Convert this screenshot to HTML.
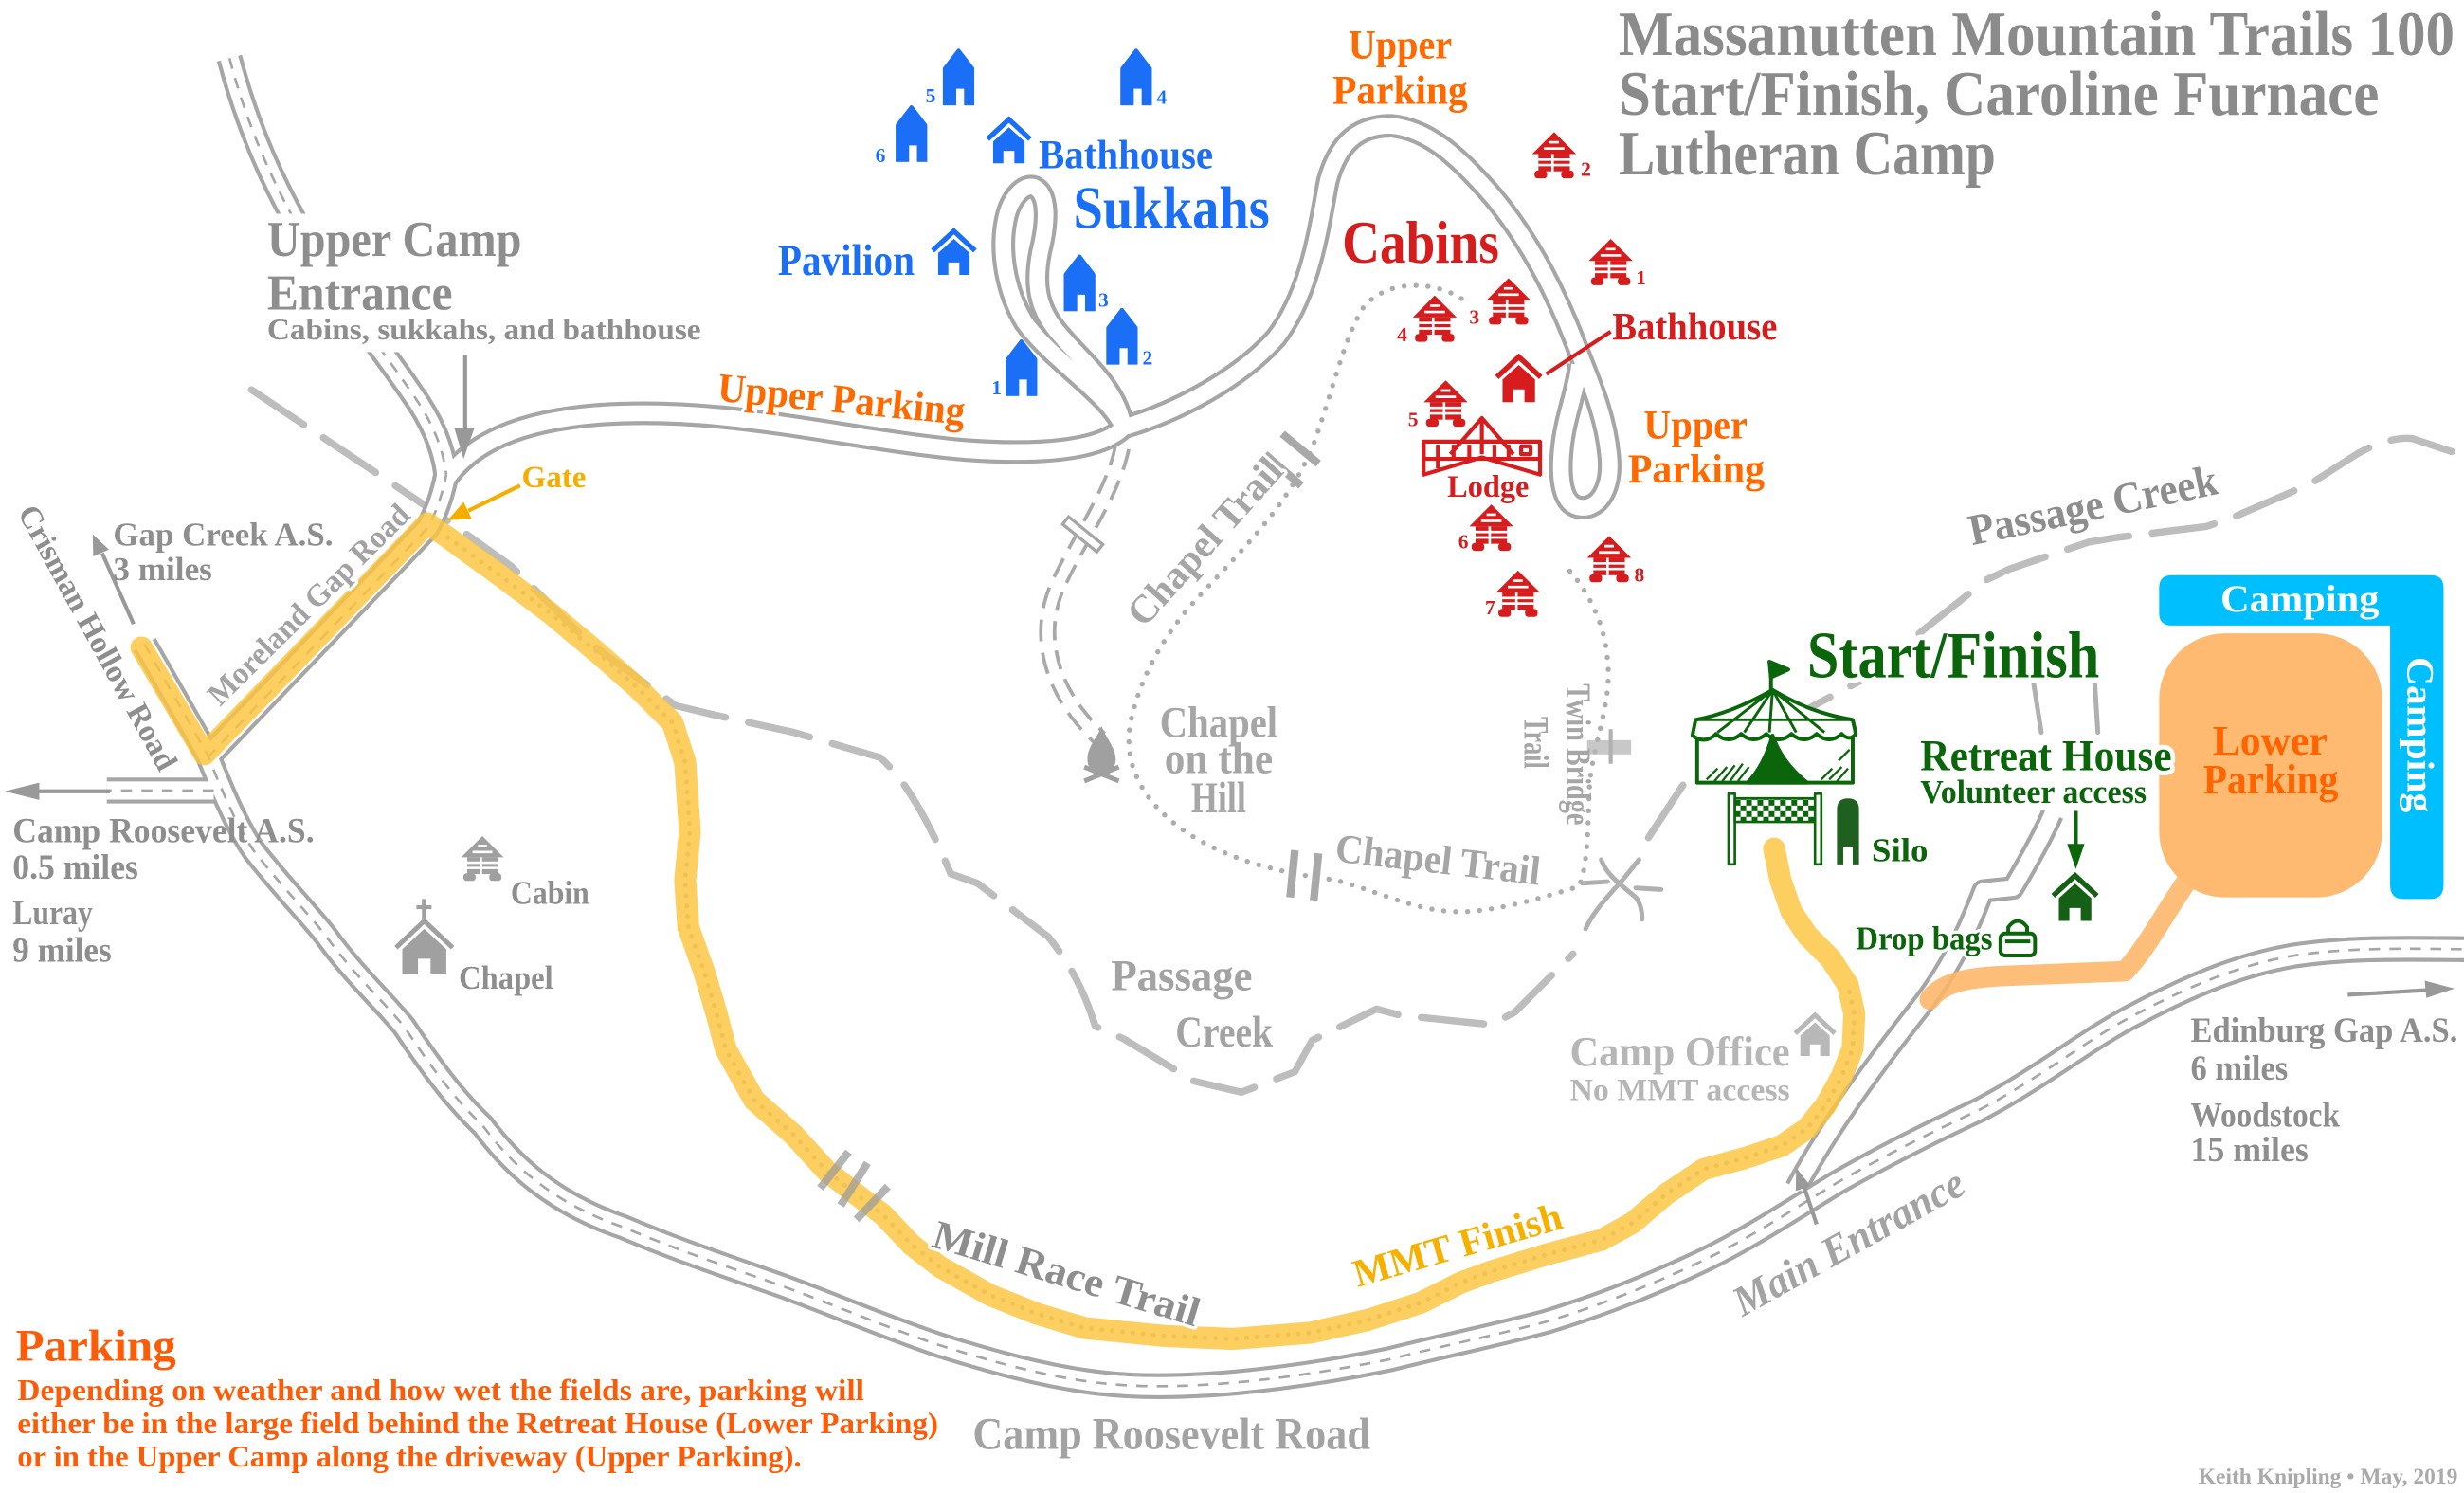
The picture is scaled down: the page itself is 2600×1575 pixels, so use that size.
<!DOCTYPE html>
<html><head><meta charset="utf-8"><title>MMT 100 Start/Finish map</title>
<style>
html,body{margin:0;padding:0;background:#fff;overflow:hidden}
svg{display:block}
text{font-family:"Liberation Serif","DejaVu Serif",serif;font-weight:bold}
.g{fill:#8e8e8e}
.h{paint-order:stroke fill;stroke:#fff;stroke-width:4px;stroke-linejoin:round}
</style></head><body>
<svg xmlns="http://www.w3.org/2000/svg" width="2600" height="1575" viewBox="0 0 1568 950" preserveAspectRatio="none">
<defs>
<path id="rMain" d="M92,410 L132,480 C140,500 150,525 162,542 C180,565 195,580 207,595 C225,620 242,635 257,653 C275,680 290,700 307,716 C325,740 350,765 397,781 C430,795 460,805 497,818 C530,830 565,845 598,856 C630,866 665,876 700,880 C750,886 820,878 884,865 C920,856 950,850 984,841 C1020,830 1050,818 1084,802 C1115,787 1140,770 1170,752 C1200,735 1230,720 1260,706 C1300,685 1330,660 1360,645 C1400,624 1430,613 1460,608 C1500,602 1540,604 1580,604"/>
<path id="rMore" d="M132,482 L272,336 Q280,322 284,302"/>
<path id="rNorth" d="M146,37 C160,90 180,130 205,170 C225,200 245,225 262,250 C275,268 282,285 284,302"/>
<path id="rStub" d="M136,503 L68,503"/>
<path id="rDrive" d="M284,305 C300,282 330,268 380,264 C460,258 530,278 610,286 C660,290 700,287 715,272"/>
<path id="rSuk" d="M715,272 C705,250 670,230 652,205 C640,185 636,160 640,140 C643,125 652,117 658,119 C667,123 667,140 662,160 C658,180 660,195 672,210 C688,230 710,245 715,272"/>
<path id="rCab" d="M715,272 C750,262 790,240 812,215 C835,185 840,140 845,115 C852,90 865,80 885,80 C910,82 930,102 950,125 C975,155 992,190 1005,225 C1015,250 1022,268 1024,290 C1026,310 1018,324 1006,323 C994,322 992,305 994,285 C996,265 1003,250 1005,232"/>
<path id="rEnt" d="M1143,756 C1165,715 1195,675 1225,637 C1245,610 1255,585 1262,567 L1281,565 C1291,548 1300,532 1306,518"/>
<path id="rChap" d="M714,285 C708,315 685,345 672,375 C660,405 668,440 700,470"/>
<symbol id="suk" viewBox="0 0 20 36"><path d="M0,36V13L10,0L20,13V36H14V25H8V36Z"/></symbol>
<symbol id="house" viewBox="0 0 30 30"><path d="M1.5,14.5L15,2L28.5,14.5" fill="none" stroke-width="3.2"/><path d="M5,16L15,7L25,16V30H18.5V22H11.5V30H5Z" stroke="none"/></symbol>
<symbol id="cab" viewBox="0 0 30 30">
<path d="M15,0L1,14H29Z"/><rect x="5" y="14" width="20" height="11"/>
<rect x="2.5" y="24.5" width="8" height="5" rx="2"/><rect x="19.5" y="24.5" width="8" height="5" rx="2"/>
<path d="M12,6.5H18M8.5,10.5H21.5M5,17.5H25M5,21H25M14,14V25" stroke="#fff" stroke-width="1.6" fill="none"/>
</symbol>
<pattern id="chk" x="1104" y="509" width="7.2" height="7.2" patternUnits="userSpaceOnUse">
<rect width="7.2" height="7.2" fill="#fff"/><rect width="3.6" height="3.6" fill="#0b650b"/><rect x="3.6" y="3.6" width="3.6" height="3.6" fill="#0b650b"/>
</pattern>
</defs>
<rect width="1568" height="950" fill="#fff"/>

<!-- creek -->
<g fill="none" stroke="#bdbdbd" stroke-width="4.5" stroke-linecap="round" stroke-linejoin="round" stroke-dasharray="40 15">
<path d="M160,248 L205,278 L265,318 L290,335 L325,360 L375,409 L430,449 L455,455 L505,466 L560,482 C575,495 590,520 605,556 L622,562 L667,596 C680,612 690,630 697,653 L715,661 L760,688 L790,695 L824,682 L835,662 L876,642 L891,646 L949,652 L964,644 L1001,607"/>
<path d="M1049,533 L1074,495 L1094,487 L1130,462 L1186,432 L1225,400 L1264,369 L1279,362 L1329,345 L1347,342 L1404,335 L1419,330 L1470,308 L1495,292 C1510,282 1525,278 1535,279 L1568,290"/>
</g>

<!-- dotted trails -->
<path d="M930,190 C915,180 885,176 868,195 C855,215 848,250 835,285 C818,325 785,355 758,385 C738,408 724,435 719,462 C715,490 730,515 762,534 C790,550 820,556 850,560 C880,568 905,582 935,580 C960,578 985,570 1005,564 C1012,545 1010,515 1012,495 C1015,470 1026,445 1023,420 C1021,395 1010,375 996,360" fill="none" stroke="#adadad" stroke-width="3.2" stroke-linecap="round" stroke-dasharray="0.1 7.5"/>
<!-- twin bridge X -->
<g fill="none" stroke="#b0b0b0" stroke-width="3" stroke-linecap="round">
<path d="M1019,547 C1022,556 1030,562 1041,571 C1044,575 1045,580 1045,585"/>
<path d="M1043,547 C1038,553 1033,560 1027,566 C1020,574 1013,582 1009,591"/>
<path d="M1007,562 L1023,561"/><path d="M1041,565 L1057,566"/>
<path d="M1294,434 L1299,466"/><path d="M1333,434 L1335,466"/>
</g>
<rect x="1010" y="471" width="28" height="9" fill="#b5b5b5" opacity=".75"/>
<path d="M1025,464 V486" stroke="#b0b0b0" stroke-width="2.5"/>

<!-- roads -->
<g fill="none" stroke-linejoin="round">
<use href="#rChap" stroke="#a9a9a9" stroke-width="11" stroke-dasharray="13 7"/>
<use href="#rChap" stroke="#fff" stroke-width="6.5"/>
<g stroke="#a6a6a6" stroke-width="16.5"><use href="#rMain"/><use href="#rMore"/><use href="#rNorth"/><use href="#rStub"/></g>
<g stroke="#a6a6a6" stroke-width="15"><use href="#rDrive"/><use href="#rSuk"/><use href="#rCab"/><use href="#rEnt"/></g>
<g stroke="#fff" stroke-width="11.5"><use href="#rMain"/><use href="#rMore"/><use href="#rNorth"/><use href="#rStub"/></g>
<g stroke="#fff" stroke-width="10"><use href="#rDrive"/><use href="#rSuk"/><use href="#rCab"/><use href="#rEnt"/></g>
<g stroke="#a6a6a6" stroke-width="1.6" stroke-dasharray="7 6"><use href="#rMain"/><use href="#rMore"/><use href="#rNorth"/><use href="#rStub"/></g>
</g>
<!-- chapel road bridge -->
<rect x="-14" y="-3" width="28" height="6" transform="translate(689,340) rotate(39)" fill="#fff" stroke="#a6a6a6" stroke-width="2"/>
<!-- chapel trail bridges -->
<g stroke="#a9a9a9" stroke-width="5" stroke-linecap="butt">
<path d="M805,289 L828,309"/><path d="M816,276 L839,295"/>
<path d="M824,541 L821,571"/><path d="M839,543 L836,573"/>
</g>

<!-- yellow trail -->
<path d="M285,342 L318,366 L350,390 L380,415 L405,437 L428,460 L436,485 L439,529 L436,560 L438,590 L448,618 L456,645 L462,668 L480,700 L505,722 L526,745 L545,760 L562,773 L580,792 L598,806 L630,824 L660,836 L690,845 L740,850 L784,852 L834,848 L870,840 L904,829 L930,816 L949,809 L985,798 L1019,789 L1039,778 L1060,760 L1084,744 L1110,737 L1134,729 L1150,718 L1162,703 L1172,685 L1179,667 L1180,645 L1176,627" fill="none" stroke="#b8b8b8" stroke-width="3" stroke-linecap="round" stroke-dasharray="0.1 6.5"/>
<path d="M90,412 L130,480 L272,333 L285,342 L318,366 L350,390 L380,415 L405,437 L428,460 L436,485 L439,529 L436,560 L438,590 L448,618 L456,645 L462,668 L480,700 L505,722 L526,745 L545,760 L562,773 L580,792 L598,806 L630,824 L660,836 L690,845 L740,850 L784,852 L834,848 L870,840 L904,829 L930,816 L949,809 L985,798 L1019,789 L1039,778 L1060,760 L1084,744 L1110,737 L1134,729 L1150,718 L1162,703 L1172,685 L1179,667 L1180,645 L1176,627 L1165,610 L1150,595 L1140,580 L1133,560 L1129,540" fill="none" stroke="#fcc53e" stroke-opacity=".82" stroke-width="14" stroke-linecap="round" stroke-linejoin="round"/>
<!-- mill race bridge -->
<g stroke="#9c9c9c" stroke-width="5" opacity=".75"><path d="M540,733 L522,756"/><path d="M552,740 L535,767"/><path d="M565,755 L545,776"/></g>

<!-- lower parking route -->
<path d="M1228,636 C1235,626 1250,622 1275,621 L1352,618 C1365,605 1375,585 1392,560 L1400,550" fill="none" stroke="#fdb566" stroke-opacity=".88" stroke-width="13" stroke-linecap="round" stroke-linejoin="round"/>
<rect x="1374" y="403" width="142" height="168" rx="42" fill="#fdba70"/>
<path d="M1374,374 Q1374,366 1382,366 L1547,366 Q1555,366 1555,374 L1555,563 Q1555,572 1547,572 L1529,572 Q1521,572 1521,563 L1521,398 L1382,398 Q1374,398 1374,390 Z" fill="#00bfff"/>

<!-- blue sukkahs -->
<g fill="#1b6ff7" stroke="#1b6ff7">
<use href="#suk" x="600" y="31" width="20" height="36"/>
<use href="#suk" x="713" y="31" width="20" height="36"/>
<use href="#suk" x="570" y="67" width="20" height="36"/>
<use href="#suk" x="677" y="162" width="20" height="36"/>
<use href="#suk" x="704" y="196" width="20" height="36"/>
<use href="#suk" x="640" y="216" width="20" height="36"/>
<use href="#house" x="627" y="74" width="30" height="30"/>
<use href="#house" x="592" y="145" width="30" height="30"/>
</g>
<g fill="#1b6ff7" font-size="13">
<text x="589" y="65">5</text><text x="736" y="66">4</text><text x="557" y="103">6</text>
<text x="699" y="195">3</text><text x="727" y="232">2</text><text x="631" y="251">1</text>
<text x="683" y="145" font-size="38" textLength="125" lengthAdjust="spacingAndGlyphs">Sukkahs</text>
<text x="661" y="107" font-size="26" textLength="111" lengthAdjust="spacingAndGlyphs">Bathhouse</text>
<text x="495" y="175" font-size="28" textLength="87" lengthAdjust="spacingAndGlyphs">Pavilion</text>
</g>

<!-- red cabins -->
<g fill="#d61c1c">
<use href="#cab" x="974" y="84" width="30" height="30"/>
<use href="#cab" x="1010" y="152" width="30" height="30"/>
<use href="#cab" x="945" y="177" width="30" height="30"/>
<use href="#cab" x="898" y="188" width="30" height="30"/>
<use href="#cab" x="905" y="242" width="30" height="30"/>
<use href="#cab" x="934" y="321" width="30" height="30"/>
<use href="#cab" x="1009" y="341" width="30" height="30"/>
<use href="#cab" x="951" y="363" width="30" height="30"/>
</g>
<use href="#house" x="950" y="225" width="33" height="31" fill="#d61c1c" stroke="#d61c1c"/>
<path d="M984,238 L1025,211" stroke="#d61c1c" stroke-width="2.5"/>
<g fill="none" stroke="#d61c1c" stroke-width="2.5" stroke-linejoin="round">
<path d="M923,289 L943,266 L963,289"/><path d="M931,281 H955 M943,266 V289"/>
<rect x="906" y="281" width="74" height="11"/>
<path d="M906,281 V302 L943,291 L980,302 V281"/>
<path d="M915,283V298 M925,283V293 M935,283V292 M951,283V292 M960,283V293 M968,284h6v5h-6z"/>
</g>
<g fill="#d61c1c" font-size="13">
<text x="1006" y="112">2</text><text x="1041" y="181">1</text><text x="935" y="206">3</text><text x="889" y="217">4</text>
<text x="896" y="271">5</text><text x="928" y="349">6</text><text x="1040" y="370">8</text><text x="945" y="391">7</text>
<text x="854" y="167" font-size="38" textLength="100" lengthAdjust="spacingAndGlyphs">Cabins</text>
<text x="1026" y="216" font-size="25" textLength="105" lengthAdjust="spacingAndGlyphs">Bathhouse</text>
<text x="921" y="316" font-size="20" textLength="52" lengthAdjust="spacingAndGlyphs">Lodge</text>
</g>

<!-- gray icons -->
<use href="#cab" x="292" y="532" width="30" height="29" fill="#a0a0a0"/>
<g fill="#a0a0a0">
<rect x="268.5" y="572" width="2.6" height="15"/><rect x="265" y="576" width="9.6" height="2.5"/>
<path d="M252,603 L270,586 L288,603" fill="none" stroke="#a0a0a0" stroke-width="3"/>
<path d="M256,604 L270,591 L284,604 V620 H274 V610 H266 V620 H256Z"/>
<path d="M701,462 C698,470 692,475 692,483 C692,489 696,492 701,492 C706,492 710,489 710,483 C710,476 704,470 701,462Z"/>
<path d="M690,488 L712,497 M712,488 L690,497" stroke="#a0a0a0" stroke-width="3"/>
</g>
<use href="#house" x="1141" y="644" width="28" height="28" fill="#b8b8b8" stroke="#b8b8b8"/>

<!-- tent -->
<g stroke="#0b650b" stroke-width="2.4" fill="#fff" stroke-linejoin="round">
<line x1="1127" y1="440" x2="1127" y2="422"/>
<path d="M1126,421 L1138,426 L1127,431Z" fill="#0b650b"/>
<path d="M1080,468 L1080,498 L1179,498 L1179,468 Z"/>
<path d="M1128,439 C1110,449 1095,455 1079,458 L1077,468 Q1085,474 1092,467 Q1100,474 1108,467 Q1116,474 1124,467 Q1132,474 1140,467 Q1148,474 1156,467 Q1164,474 1172,467 Q1177,472 1181,467 L1179,458 C1160,455 1145,449 1128,439Z"/>
<path d="M1079,458 H1179 M1128,439 L1093,466 M1128,439 L1110,466 M1128,439 L1126,466 M1128,439 L1143,466 M1128,439 L1161,466" fill="none" stroke-width="1.8"/>
<path d="M1128,468 C1124,482 1118,492 1112,498 L1150,498 C1140,490 1132,480 1128,468Z" fill="#0b650b"/>
<path d="M1086,496 L1093,489 M1091,497 L1099,488 M1096,497 L1104,487 M1101,497 L1109,486 M1106,497 L1113,488 M1164,496 L1172,488 M1169,497 L1176,489 M1159,496 L1166,489 M1170,484 L1177,477" fill="none" stroke-width="1.4"/>
<rect x="1100" y="505" width="4" height="45" stroke-width="1.6"/>
<rect x="1155" y="505" width="4" height="45" stroke-width="1.6"/>
<rect x="1104" y="508" width="51" height="15" fill="url(#chk)" stroke-width="1.6"/>
</g>
<path d="M1169,550 V515 Q1169,508 1176,508 Q1183,508 1183,515 V550 H1179 V539 H1173 V550 Z" fill="#1f5f1f"/>
<use href="#house" x="1305" y="555" width="31" height="31" fill="#166016" stroke="#166016"/>
<g fill="none" stroke="#0b650b" stroke-width="2.4">
<rect x="1273" y="594" width="22" height="14" rx="3"/>
<path d="M1278,594 V590 Q1284,582 1290,590 V594"/><path d="M1276,599 H1292"/>
</g>

<!-- arrows -->
<g stroke="#999" stroke-width="2.5" fill="#999">
<path d="M85,397 L65,352"/><polygon points="59,340 69.3,349.7 59.3,354.1" stroke="none"/>
<path d="M70,503.5 L24,503.5"/><polygon points="3,503.5 25,498 25,509" stroke="none"/>
<path d="M1494,633 L1545,630"/><polygon points="1562,629 1543,624 1544,635" stroke="none"/>
<path d="M1156,779 L1148,755"/><polygon points="1143,743 1152.2,754.6 1142.8,757.8" stroke="none"/>
<path d="M296,226 L296,276"/><polygon points="295,292 289,272 302,272" stroke="none"/>
</g>
<path d="M331,309 L298,325" stroke="#f5ad00" stroke-width="2.5"/>
<polygon points="285,331 300.2,330.2 295,319.4" fill="#f5ad00"/>
<path d="M1321,516 V540" stroke="#0b650b" stroke-width="2.5"/>
<polygon points="1321,553 1315.5,537 1326.5,537" fill="#0b650b"/>

<!-- gray labels -->
<rect x="165" y="136" width="283" height="88" fill="#fff"/>
<g class="g">
<text x="1030" y="35" font-size="40" fill="#8b8b8b" textLength="532" lengthAdjust="spacingAndGlyphs">Massanutten Mountain Trails 100</text>
<text x="1030" y="73" font-size="40" fill="#8b8b8b" textLength="484" lengthAdjust="spacingAndGlyphs">Start/Finish, Caroline Furnace</text>
<text x="1030" y="111" font-size="40" fill="#8b8b8b" textLength="240" lengthAdjust="spacingAndGlyphs">Lutheran Camp</text>
<text x="170" y="163" font-size="32" textLength="162" lengthAdjust="spacingAndGlyphs">Upper Camp</text>
<text x="170" y="197" font-size="32" textLength="118" lengthAdjust="spacingAndGlyphs">Entrance</text>
<text x="170" y="216" font-size="19" textLength="276" lengthAdjust="spacingAndGlyphs">Cabins, sukkahs, and bathhouse</text>
<text x="72" y="347" font-size="21" textLength="140" lengthAdjust="spacingAndGlyphs">Gap Creek A.S.</text>
<text x="72" y="369" font-size="21" textLength="63" lengthAdjust="spacingAndGlyphs">3 miles</text>
<text x="8" y="536" font-size="22" textLength="192" lengthAdjust="spacingAndGlyphs">Camp Roosevelt A.S.</text>
<text x="8" y="559" font-size="22" textLength="80" lengthAdjust="spacingAndGlyphs">0.5 miles</text>
<text x="8" y="588" font-size="22" textLength="51" lengthAdjust="spacingAndGlyphs">Luray</text>
<text x="8" y="612" font-size="22" textLength="63" lengthAdjust="spacingAndGlyphs">9 miles</text>
<text x="325" y="575" font-size="21" textLength="50" lengthAdjust="spacingAndGlyphs">Cabin</text>
<text x="292" y="629" font-size="21" textLength="60" lengthAdjust="spacingAndGlyphs">Chapel</text>
<text x="738" y="469" font-size="28" fill="#a6a6a6" textLength="75" lengthAdjust="spacingAndGlyphs">Chapel</text>
<text x="741" y="492" font-size="28" fill="#a6a6a6" textLength="69" lengthAdjust="spacingAndGlyphs">on the</text>
<text x="758" y="517" font-size="28" fill="#a6a6a6" textLength="35" lengthAdjust="spacingAndGlyphs">Hill</text>
<text class="h" x="707" y="630" font-size="28" fill="#a3a3a3" textLength="90" lengthAdjust="spacingAndGlyphs">Passage</text>
<text class="h" x="748" y="666" font-size="28" fill="#a3a3a3" textLength="62" lengthAdjust="spacingAndGlyphs">Creek</text>
<text class="h" transform="translate(728,400) rotate(-48)" font-size="25" fill="#a6a6a6" textLength="134" lengthAdjust="spacingAndGlyphs">Chapel Trail</text>
<text class="h" transform="translate(849,548) rotate(6.6)" font-size="26" fill="#a6a6a6" textLength="131" lengthAdjust="spacingAndGlyphs">Chapel Trail</text>
<text transform="translate(997,435) rotate(90)" font-size="22" fill="#a6a6a6" textLength="90" lengthAdjust="spacingAndGlyphs">Twin Bridge</text>
<text transform="translate(970,456) rotate(90)" font-size="22" fill="#a6a6a6" textLength="33" lengthAdjust="spacingAndGlyphs">Trail</text>
<text class="h" transform="translate(1255,347) rotate(-11.8)" font-size="28" textLength="161" lengthAdjust="spacingAndGlyphs">Passage Creek</text>
<text class="h" transform="translate(140,450) rotate(-44.8)" font-size="20" fill="#a3a3a3" textLength="172" lengthAdjust="spacingAndGlyphs">Moreland Gap Road</text>
<text class="h" transform="translate(11,326) rotate(61.3)" font-size="20" textLength="189" lengthAdjust="spacingAndGlyphs">Crisman Hollow Road</text>
<text class="h" transform="translate(592,793) rotate(16.9)" font-size="26" textLength="176" lengthAdjust="spacingAndGlyphs">Mill Race Trail</text>
<text class="h" transform="translate(1109,838) rotate(-29)" font-size="27" font-style="italic" fill="#a3a3a3" textLength="164" lengthAdjust="spacingAndGlyphs">Main Entrance</text>
<text x="619" y="922" font-size="29" fill="#a3a3a3" textLength="253" lengthAdjust="spacingAndGlyphs">Camp Roosevelt Road</text>
<text x="999" y="678" font-size="27" fill="#b6b6b6" textLength="140" lengthAdjust="spacingAndGlyphs">Camp Office</text>
<text x="999" y="700" font-size="20" fill="#b6b6b6" textLength="140" lengthAdjust="spacingAndGlyphs">No MMT access</text>
<text x="1394" y="663" font-size="22" textLength="170" lengthAdjust="spacingAndGlyphs">Edinburg Gap A.S.</text>
<text x="1394" y="687" font-size="22" textLength="62" lengthAdjust="spacingAndGlyphs">6 miles</text>
<text x="1394" y="717" font-size="22" textLength="95" lengthAdjust="spacingAndGlyphs">Woodstock</text>
<text x="1394" y="739" font-size="22" textLength="75" lengthAdjust="spacingAndGlyphs">15 miles</text>
<text x="1399" y="944" font-size="14" fill="#aaa" font-weight="normal" textLength="165" lengthAdjust="spacingAndGlyphs">Keith Knipling • May, 2019</text>
</g>

<!-- orange / yellow labels -->
<g fill="#ff6a00">
<text x="858" y="37" font-size="26" textLength="66" lengthAdjust="spacingAndGlyphs">Upper</text>
<text x="848" y="66" font-size="26" textLength="86" lengthAdjust="spacingAndGlyphs">Parking</text>
<text x="1046" y="279" font-size="26" textLength="66" lengthAdjust="spacingAndGlyphs">Upper</text>
<text x="1036" y="307" font-size="26" textLength="87" lengthAdjust="spacingAndGlyphs">Parking</text>
<text class="h" transform="translate(456,255) rotate(5.5)" font-size="26" textLength="158" lengthAdjust="spacingAndGlyphs">Upper Parking</text>
</g>
<text x="332" y="310" font-size="20" fill="#f5ad00" textLength="41" lengthAdjust="spacingAndGlyphs">Gate</text>
<text class="h" transform="translate(864,819) rotate(-16)" font-size="25" fill="#f5b000" textLength="137" lengthAdjust="spacingAndGlyphs">MMT Finish</text>
<g fill="#fc5c08">
<text x="10" y="866" font-size="29" textLength="102" lengthAdjust="spacingAndGlyphs">Parking</text>
<text x="11" y="891" font-size="19" textLength="539" lengthAdjust="spacingAndGlyphs">Depending on weather and how wet the fields are, parking will</text>
<text x="11" y="912" font-size="19" textLength="586" lengthAdjust="spacingAndGlyphs">either be in the large field behind the Retreat House (Lower Parking)</text>
<text x="11" y="933" font-size="19" textLength="499" lengthAdjust="spacingAndGlyphs">or in the Upper Camp along the driveway (Upper Parking).</text>
</g>
<g fill="#ff6400">
<text x="1408" y="480" font-size="27" textLength="73" lengthAdjust="spacingAndGlyphs">Lower</text>
<text x="1402" y="505" font-size="27" textLength="86" lengthAdjust="spacingAndGlyphs">Parking</text>
</g>
<g fill="#fff">
<text x="1413" y="389" font-size="24" textLength="101" lengthAdjust="spacingAndGlyphs">Camping</text>
<text transform="translate(1532,418) rotate(90)" font-size="24" textLength="99" lengthAdjust="spacingAndGlyphs">Camping</text>
</g>

<!-- green labels -->
<g fill="#0b650b">
<text class="h" x="1150" y="431" font-size="42" style="stroke-width:7px" textLength="186" lengthAdjust="spacingAndGlyphs">Start/Finish</text>
<text class="h" x="1222" y="490" font-size="28" style="stroke-width:6px" textLength="160" lengthAdjust="spacingAndGlyphs">Retreat House</text>
<text x="1222" y="511" font-size="21" textLength="144" lengthAdjust="spacingAndGlyphs">Volunteer access</text>
<text x="1191" y="548" font-size="21" textLength="36" lengthAdjust="spacingAndGlyphs">Silo</text>
<text class="h" x="1181" y="604" font-size="21" textLength="87" lengthAdjust="spacingAndGlyphs">Drop bags</text>
</g>
</svg>
</body></html>
